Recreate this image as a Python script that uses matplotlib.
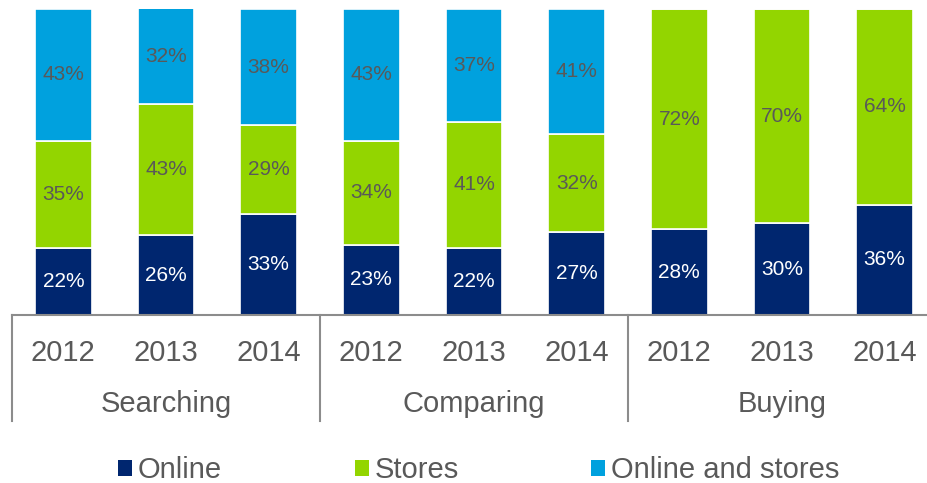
import numpy as np
import matplotlib
matplotlib.use("Agg")
import matplotlib.pyplot as plt
from matplotlib.patches import Patch

plt.rcParams['font.family'] = ['Liberation Sans', 'DejaVu Sans']

# Share of shoppers per channel, by stage and year (%)
groups = ["Searching", "Comparing", "Buying"]
years = ["2012", "2013", "2014"]
online = [22, 26, 33, 23, 22, 27, 28, 30, 36]
stores = [35, 43, 29, 34, 41, 32, 72, 70, 64]
both = [43, 32, 38, 43, 37, 41, 0, 0, 0]

series_names = ["Online", "Stores", "Online and stores"]
colors = ["#00266F", "#93D500", "#00A1DE"]
label_colors = ["white", "#595959", "#595959"]

fig = plt.figure(figsize=(9.28, 4.83), dpi=100)
ax = fig.add_axes([12/928, 1 - 315/483, 924/928, 306/483])

x = np.arange(len(online))
width = 0.555
bottom = np.zeros(len(x))
for vals, col, lcol in zip([online, stores, both], colors, label_colors):
    vals = np.array(vals, dtype=float)
    ax.bar(x, vals, width, bottom=bottom, color=col, edgecolor="white", linewidth=1.2)
    for xi, b, v in zip(x, bottom, vals):
        if v <= 0:
            continue
        top = min(b + v, 100)
        ax.text(xi, (b + top) / 2, f"{int(v)}%", ha="center", va="center",
                fontsize=15, color=lcol)
    bottom += vals

ax.set_xlim(-0.5, 8.5)
ax.set_ylim(0, 100)
ax.set_yticks([])
ax.set_xticks(x)
ax.set_xticklabels(years * 3, fontsize=21, color="#595959")
ax.tick_params(axis="x", length=0, pad=17)
for s in ["top", "right", "left"]:
    ax.spines[s].set_visible(False)
ax.spines["bottom"].set_color("#8C8C8C")
ax.spines["bottom"].set_linewidth(1.5)

# group labels and separators below the axis
trans = ax.get_xaxis_transform()
for i, g in enumerate(groups):
    ax.text(3 * i + 1, -0.292, g, transform=trans, ha="center", va="center",
            fontsize=21, color="#595959")
for sx in [-0.5, 2.5, 5.5, 8.5]:
    ax.plot([sx, sx], [0, -0.345], transform=trans, color="#8C8C8C",
            linewidth=1.5, clip_on=False)

handles = [Patch(facecolor=c, edgecolor="none") for c in colors]
fig.legend(handles, series_names, loc="center left",
           bbox_to_anchor=(118/928, 1 - 470/483), ncol=3, frameon=False,
           fontsize=21, labelcolor="#595959", handlelength=0.48,
           handleheight=0.48, handletextpad=0.2, columnspacing=4.55,
           borderpad=0, borderaxespad=0)

fig.savefig("out.png", dpi=100)
